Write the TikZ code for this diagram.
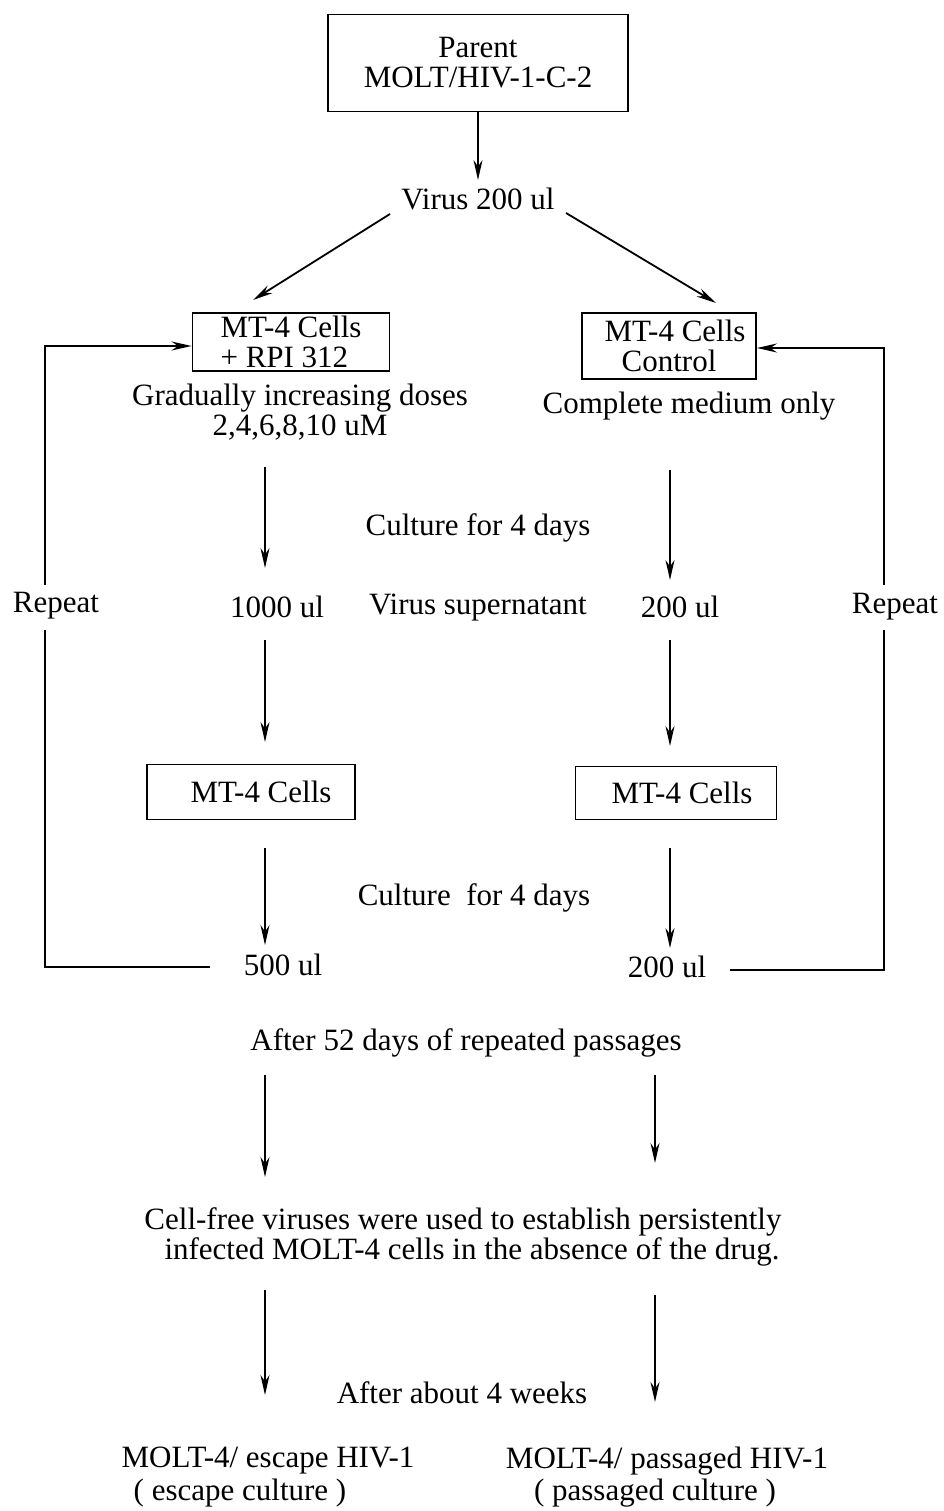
\documentclass[tikz,border=0pt]{standalone}
\usepackage{fontspec}
\setmainfont{Liberation Serif}
\usetikzlibrary{arrows.meta}
\begin{document}
\begin{tikzpicture}[x=1pt,y=-1pt,
  every node/.style={font=\fontsize{31}{30}\selectfont, inner sep=0pt, align=center},
  ln/.style={line width=1.8pt},
  arr/.style={ln,-{Stealth[length=20pt,width=9pt]}},
  bx/.style={draw, line width=1.9pt}]
\useasboundingbox (0,0) rectangle (944,1511);
% boxes
\node[bx, minimum width=300, minimum height=97] (top) at (478,63) {Parent\\MOLT/HIV-1-C-2};
\node[bx, minimum width=197, minimum height=58, align=left] (lbox) at (291,342) {MT-4 Cells\\+ RPI 312};
\node[bx, minimum width=174, minimum height=66] (rbox) at (669,346) {\hspace*{12pt}MT-4 Cells\\Control};
\node[bx, minimum width=208, minimum height=55] (lcell) at (251,792) {\hspace*{20pt}MT-4 Cells};
\node[bx, minimum width=201, minimum height=53] (rcell) at (676,793) {\hspace*{12pt}MT-4 Cells};
% texts
\node (virus) at (478,199) {Virus 200 ul};
\node (dose) at (300,412) {Gradually increasing doses\\2,4,6,8,10 uM};
\node (medium) at (689,406) {Complete medium only};
\node (cult1) at (478,528) {Culture for 4 days};
\node (rep1) at (56,606) {Repeat};
\node (l1000) at (277,607) {1000 ul};
\node (sup) at (478,608) {Virus supernatant};
\node (r200a) at (680,607) {200 ul};
\node (rep2) at (895,607) {Repeat};
\node (cult2) at (474,898) {Culture\ \ for 4 days};
\node (l500) at (283,965) {500 ul};
\node (r200b) at (667,967) {200 ul};
\node (after52) at (466,1043) {After 52 days of repeated passages};
\node (cellfree) at (463,1237) {Cell-free viruses were used to establish persistently\\\hspace*{18pt}infected MOLT-4 cells in the absence of the drug.};
\node (weeks) at (462,1393) {After about 4 weeks};
\node (esc1) at (268,1461) {MOLT-4/ escape HIV-1};
\node (esc2) at (240,1493) {( escape culture )};
\node (pas1) at (667,1461) {MOLT-4/ passaged HIV-1};
\node (pas2) at (655,1493) {( passaged culture )};
% coordinates for arrow ends
\coordinate (va) at (390,214); \coordinate (vb) at (253,300);
\coordinate (vc) at (566,213); \coordinate (vd) at (716,303);
\coordinate (L1s) at (265,467); \coordinate (L1e) at (265,568);
\coordinate (L2s) at (265,640); \coordinate (L2e) at (265,742);
\coordinate (L3s) at (265,848); \coordinate (L3e) at (265,945);
\coordinate (R1s) at (670,470); \coordinate (R1e) at (670,580);
\coordinate (R2s) at (670,640); \coordinate (R2e) at (670,746);
\coordinate (R3s) at (670,848); \coordinate (R3e) at (670,948);
\coordinate (L4s) at (265,1075); \coordinate (L4e) at (265,1177);
\coordinate (R4s) at (655,1075); \coordinate (R4e) at (655,1163);
\coordinate (L5s) at (265,1290); \coordinate (L5e) at (265,1395);
\coordinate (R5s) at (655,1295); \coordinate (R5e) at (655,1402);
% arrows
\draw[arr] (top.south) -- (478,180);
\draw[arr] (va) -- (vb);
\draw[arr] (vc) -- (vd);
\foreach \s/\e in {L1s/L1e,L2s/L2e,L3s/L3e,R1s/R1e,R2s/R2e,R3s/R3e,L4s/L4e,R4s/R4e,L5s/L5e,R5s/R5e}
  \draw[arr] (\s) -- (\e);
% repeat loops
\coordinate (lcorner) at (45,967);
\coordinate (rcorner) at (884,970);
\draw[ln] (210,967) -- (lcorner) -- (45,630);
\draw[arr] (45,585) -- (45,346) -- (lbox.west |- 0,346);
\draw[ln] (730,970) -- (rcorner) -- (884,630);
\draw[arr] (884,585) -- (884,348) -- (rbox.east |- 0,348);
\end{tikzpicture}
\end{document}
